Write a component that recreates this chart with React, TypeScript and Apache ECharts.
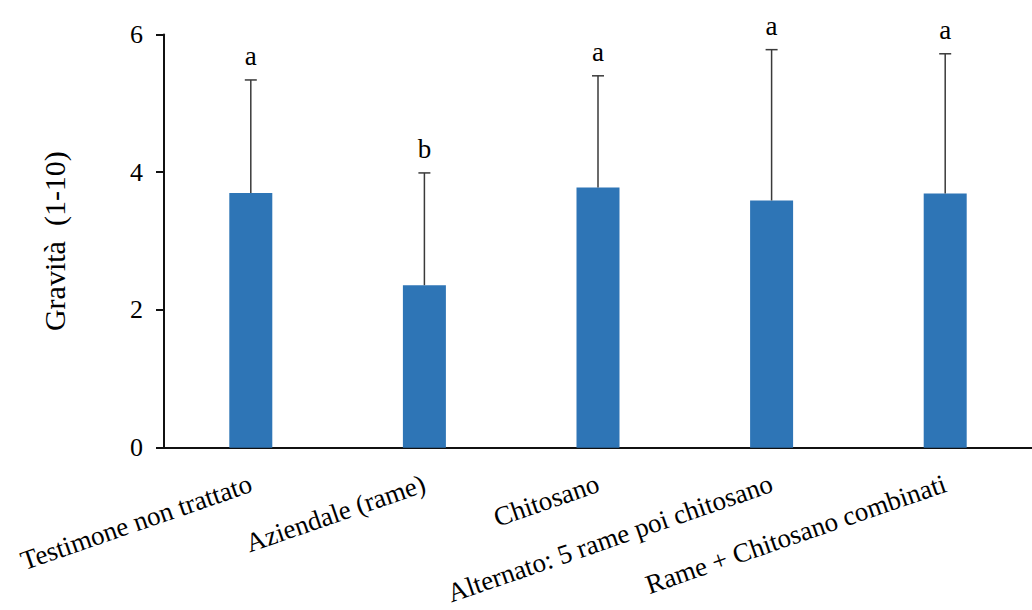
import React, { useEffect, useRef } from "react";
import * as echarts from "echarts";

const categories = [
  "Testimone non trattato",
  "Aziendale (rame)",
  "Chitosano",
  "Alternato: 5 rame poi chitosano",
  "Rame + Chitosano combinati",
];
const means = [3.7, 2.36, 3.78, 3.59, 3.69];
const errors = [1.64, 1.63, 1.62, 2.19, 2.03];
const letters = ["a", "b", "a", "a", "a"];
const yTicks = { min: 0, max: 6, interval: 2 };

const FONT = "'Liberation Serif', 'Times New Roman', serif";

export default function App() {
  const ref = useRef<HTMLDivElement>(null);
  useEffect(() => {
    if (!ref.current) return;
    const chart = echarts.init(ref.current, undefined, { renderer: "svg" });
    const errData = means.map((m, i) => [i, m, m + errors[i]]);
    chart.setOption({
      animation: false,
      backgroundColor: "#ffffff",
      grid: { left: 164, top: 34.5, width: 880, bottom: 162.3, containLabel: false },
      xAxis: {
        type: "category",
        data: categories,
        axisLine: { show: true, lineStyle: { color: "#111", width: 2 } },
        axisTick: { show: false },
        axisLabel: {
          rotate: 19,
          margin: 35,
          interval: 0,
          fontFamily: FONT,
          fontSize: 27,
          color: "#000",
        },
      },
      yAxis: {
        type: "value",
        min: yTicks.min,
        max: yTicks.max,
        interval: yTicks.interval,
        name: "Gravità  (1-10)",
        nameLocation: "middle",
        nameGap: 95,
        nameTextStyle: { fontFamily: FONT, fontSize: 30, color: "#000" },
        axisLine: { show: true, lineStyle: { color: "#111", width: 2 } },
        axisTick: { show: true, inside: false, length: 8, lineStyle: { color: "#111", width: 2 } },
        splitLine: { show: false },
        axisLabel: { margin: 21, fontFamily: FONT, fontSize: 26, color: "#000" },
      },
      series: [
        {
          type: "bar",
          data: means,
          barWidth: 43,
          itemStyle: { color: "#2E75B6" },
          z: 2,
        },
        {
          type: "custom",
          data: errData,
          z: 3,
          renderItem: (params: any, api: any) => {
            const idx = api.value(0);
            const base = api.coord([idx, api.value(1)]);
            const top = api.coord([idx, api.value(2)]);
            const half = 6;
            const stroke = { stroke: "#3a3a3a", lineWidth: 1.5 };
            return {
              type: "group",
              children: [
                { type: "line", shape: { x1: base[0], y1: base[1], x2: top[0], y2: top[1] }, style: stroke },
                { type: "line", shape: { x1: top[0] - half, y1: top[1], x2: top[0] + half, y2: top[1] }, style: stroke },
                {
                  type: "text",
                  x: top[0],
                  y: top[1] - 10,
                  style: {
                    text: letters[params.dataIndex],
                    fontFamily: FONT,
                    fontSize: 27,
                    fill: "#000",
                    textAlign: "center",
                    textVerticalAlign: "bottom",
                  },
                },
              ],
            };
          },
        },
      ],
    });
    return () => chart.dispose();
  }, []);
  return (
    <div
      ref={ref}
      style={{ position: "fixed", left: 0, top: 0, width: 1032, height: 610, background: "#fff" }}
    />
  );
}
